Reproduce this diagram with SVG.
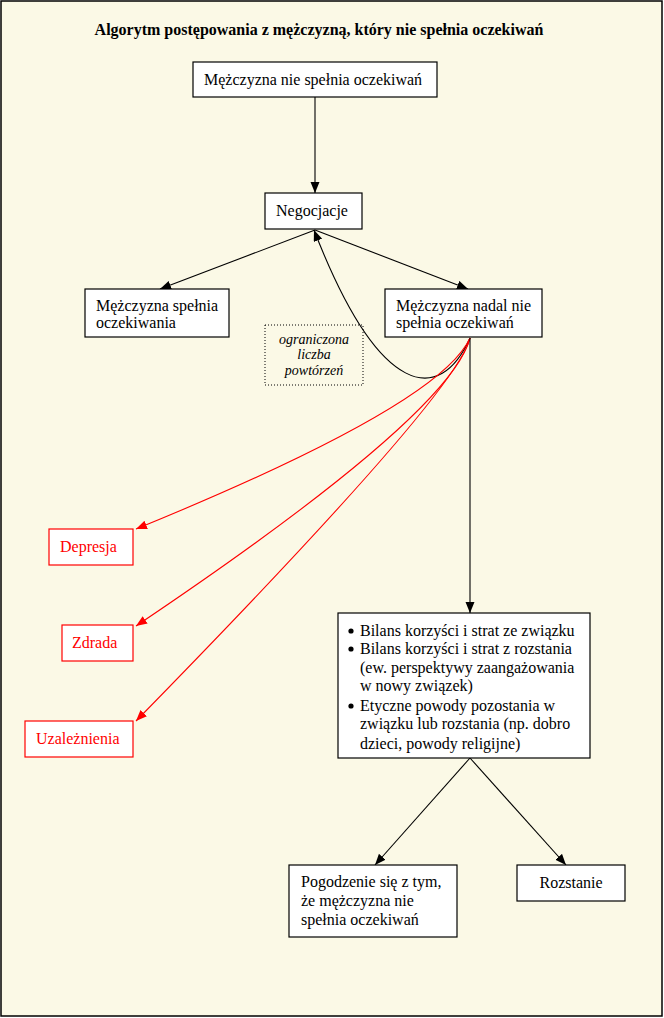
<svg xmlns="http://www.w3.org/2000/svg" width="664" height="1018" viewBox="0 0 664 1018">
<style>
.box{fill:#fff;stroke:#000;stroke-width:1.2}
.rbox{fill:#fff;stroke:#f00;stroke-width:1.2}
.dbox{fill:none;stroke:#000;stroke-width:1;stroke-dasharray:1 2}
text{font-family:"Liberation Serif","Times New Roman",serif;font-size:16px;fill:#000}
.title{font-weight:bold}
.red{fill:#f00}
.it{font-style:italic;font-size:14px}
.ln{fill:none;stroke:#000;stroke-width:1.1}
.rln{fill:none;stroke:#f00;stroke-width:1.1}
</style>
<defs>
<marker id="ah" markerUnits="userSpaceOnUse" markerWidth="12" markerHeight="10" refX="11" refY="4.5" orient="auto"><path d="M0,0 L11,4.5 L0,9 Z" fill="#000"/></marker>
<marker id="rah" markerUnits="userSpaceOnUse" markerWidth="12" markerHeight="10" refX="11" refY="4.5" orient="auto"><path d="M0,0 L11,4.5 L0,9 Z" fill="#f00"/></marker>
</defs>
<rect x="1" y="1" width="661" height="1015" fill="#FBF9E6" stroke="#000" stroke-width="1.5"/>
<text class="title" x="319" y="35" text-anchor="middle">Algorytm postępowania z mężczyzną, który nie spełnia oczekiwań</text>

<g id="connectors">
<line class="ln" x1="315" y1="97" x2="315" y2="193" marker-end="url(#ah)"/>
<line class="ln" x1="315" y1="230" x2="160" y2="289" marker-end="url(#ah)"/>
<line class="ln" x1="315" y1="230" x2="468" y2="289" marker-end="url(#ah)"/>
<path class="ln" d="M470,338 C440,405 380,400 314,230" marker-end="url(#ah)"/>
<path class="rln" d="M470,338 Q440,405 136,529" marker-end="url(#rah)"/>
<path class="rln" d="M470,338 Q450,415 136,626" marker-end="url(#rah)"/>
<path class="rln" d="M470,338 Q458,392 136,721" marker-end="url(#rah)"/>
<line class="ln" x1="470" y1="338" x2="470" y2="613" marker-end="url(#ah)"/>
<line class="ln" x1="470" y1="758" x2="375" y2="865" marker-end="url(#ah)"/>
<line class="ln" x1="470" y1="758" x2="566" y2="865" marker-end="url(#ah)"/>
</g>

<g id="n-start">
<rect class="box" x="193" y="62" width="244" height="35"/>
<text x="204" y="85">Mężczyzna nie spełnia oczekiwań</text>
</g>
<g id="n-negocjacje">
<rect class="box" x="265" y="193" width="97" height="36"/>
<text x="276" y="216">Negocjacje</text>
</g>
<g id="n-spelnia">
<rect class="box" x="85" y="289" width="144" height="48"/>
<text x="96" y="311">Mężczyzna spełnia</text>
<text x="96" y="328">oczekiwania</text>
</g>
<g id="n-nadal">
<rect class="box" x="385" y="289" width="157" height="48"/>
<text x="396" y="311">Mężczyzna nadal nie</text>
<text x="396" y="328">spełnia oczekiwań</text>
</g>
<g id="n-powtorzenia">
<rect class="dbox" x="265" y="325" width="98" height="60"/>
<text class="it" x="314" y="344" text-anchor="middle">ograniczona</text>
<text class="it" x="314" y="359" text-anchor="middle">liczba</text>
<text class="it" x="314" y="375" text-anchor="middle">powtórzeń</text>
</g>
<g id="n-depresja">
<rect class="rbox" x="49" y="529" width="84" height="36"/>
<text class="red" x="60" y="552">Depresja</text>
</g>
<g id="n-zdrada">
<rect class="rbox" x="62" y="625" width="71" height="36"/>
<text class="red" x="72" y="648">Zdrada</text>
</g>
<g id="n-uzaleznienia">
<rect class="rbox" x="25" y="721" width="108" height="36"/>
<text class="red" x="36" y="744">Uzależnienia</text>
</g>
<g id="n-bilans">
<rect class="box" x="338" y="613" width="252" height="145"/>
<circle cx="351" cy="631" r="2.6"/>
<circle cx="351" cy="649" r="2.6"/>
<circle cx="351" cy="706" r="2.6"/>
<text x="360" y="636">Bilans korzyści i strat ze związku</text>
<text x="360" y="654">Bilans korzyści i strat z rozstania</text>
<text x="360" y="673">(ew. perspektywy zaangażowania</text>
<text x="360" y="691">w nowy związek)</text>
<text x="360" y="711">Etyczne powody pozostania w</text>
<text x="360" y="729">związku lub rozstania (np. dobro</text>
<text x="360" y="749">dzieci, powody religijne)</text>
</g>
<g id="n-pogodzenie">
<rect class="box" x="289" y="865" width="168" height="72"/>
<text x="301" y="887">Pogodzenie się z tym,</text>
<text x="301" y="906">że mężczyzna nie</text>
<text x="301" y="925">spełnia oczekiwań</text>
</g>
<g id="n-rozstanie">
<rect class="box" x="517" y="865" width="108" height="36"/>
<text x="571" y="888" text-anchor="middle">Rozstanie</text>
</g>
</svg>
